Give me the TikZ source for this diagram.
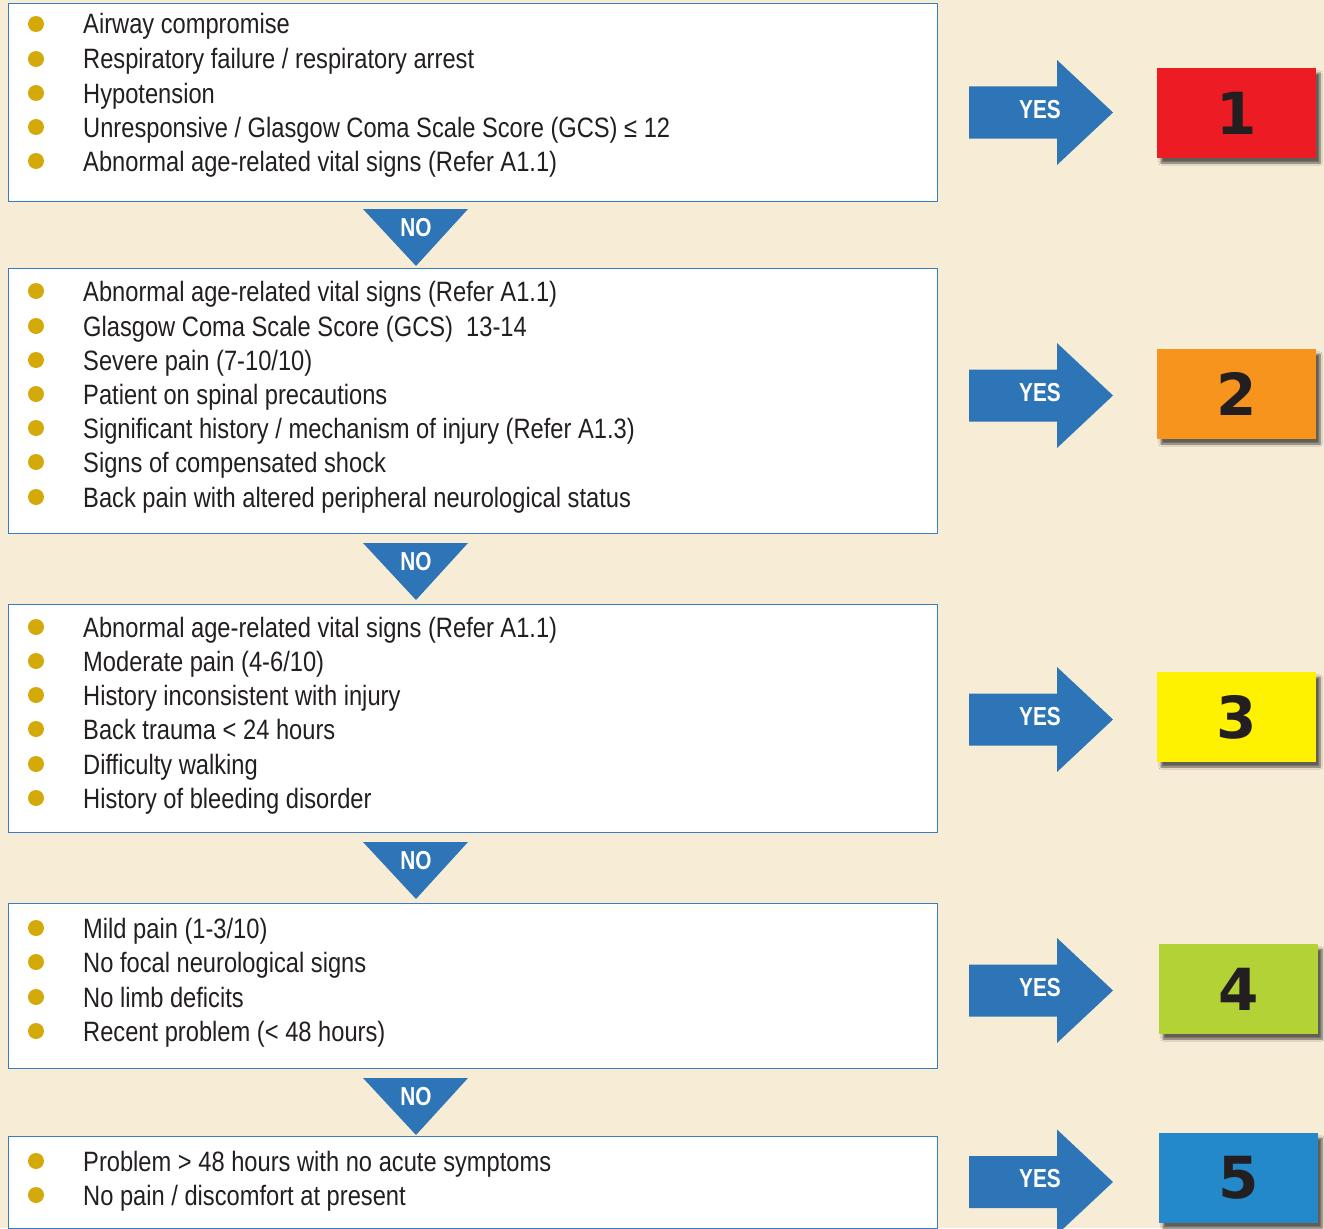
\documentclass[tikz,border=0pt]{standalone}
\usepackage{fontspec}
\setmainfont{Liberation Sans}[FakeStretch=0.846]
\newfontfamily\yesfont{Liberation Sans}[FakeStretch=0.8]
\newfontfamily\numfont{DejaVu Sans}
\usetikzlibrary{shadows.blur}
\definecolor{bg}{HTML}{F7EDD7}
\definecolor{arrblue}{HTML}{2E75B8}
\definecolor{boxline}{HTML}{3A7CC2}
\definecolor{bulc}{HTML}{D4A90A}
\definecolor{txt}{HTML}{231F20}
\definecolor{c1}{HTML}{ED1C24}
\definecolor{c2}{HTML}{F7941E}
\definecolor{c3}{HTML}{FFF200}
\definecolor{c4}{HTML}{B2D235}
\definecolor{c5}{HTML}{2389CB}
\tikzset{
  critbox/.style={draw=boxline, line width=1.2pt, fill=white, inner sep=0, anchor=north west},
  crit/.style={anchor=base west, font=\fontsize{28}{34}\selectfont, inner sep=0, text=txt},
  bul/.style={circle, fill=bulc, minimum size=16, inner sep=0},
  notext/.style={font=\yesfont\fontsize{26}{30}\selectfont\bfseries, text=white, inner sep=0},
  yestext/.style={font=\yesfont\fontsize{26}{30}\selectfont\bfseries, text=white, inner sep=0},
  numbox/.style={minimum width=159, minimum height=90, inner sep=0, font=\numfont\bfseries\fontsize{58}{60}\selectfont, text=txt,
     blur shadow={shadow xshift=4pt, shadow yshift=-5pt, shadow blur steps=6, shadow opacity=60}},
}
\begin{document}
\begin{tikzpicture}[x=1pt,y=-1pt]
\fill[bg] (0,0) rectangle (1324,1228);
\useasboundingbox (0,0) rectangle (1324,1228);
% criteria boxes
\node[critbox, minimum width=929, minimum height=198] (b1) at (8,3) {};
\node[critbox, minimum width=929, minimum height=265] (b2) at (8,268) {};
\node[critbox, minimum width=929, minimum height=228] (b3) at (8,604) {};
\node[critbox, minimum width=929, minimum height=165] (b4) at (8,903) {};
\node[critbox, minimum width=929, minimum height=92] (b5) at (8,1136) {};
% bullet lists
\foreach \y/\t [count=\i] in {
  24/{Airway compromise},
  59/{Respiratory failure / respiratory arrest},
  93/{Hypotension},
  127/{Unresponsive / Glasgow Coma Scale Score (GCS) ≤ 12},
  161/{Abnormal age-related vital signs (Refer A1.1)},
  291/{Abnormal age-related vital signs (Refer A1.1)},
  326/{Glasgow Coma Scale Score (GCS) \ 13-14},
  360/{Severe pain (7-10/10)},
  394/{Patient on spinal precautions},
  428/{Significant history / mechanism of injury (Refer A1.3)},
  462/{Signs of compensated shock},
  497/{Back pain with altered peripheral neurological status},
  627/{Abnormal age-related vital signs (Refer A1.1)},
  661/{Moderate pain (4-6/10)},
  695/{History inconsistent with injury},
  729/{Back trauma < 24 hours},
  764/{Difficulty walking},
  798/{History of bleeding disorder},
  928/{Mild pain (1-3/10)},
  962/{No focal neurological signs},
  997/{No limb deficits},
  1031/{Recent problem (< 48 hours)},
  1161/{Problem > 48 hours with no acute symptoms},
  1195/{No pain / discomfort at present}}{
  \node[bul] (bu\i) at (36,\y) {};
  \node[crit] (t\i) at (83,\y+10) {\t};
}
% NO triangles
\foreach \ty [count=\i] in {209,543,842,1078}{
  \fill[arrblue] (363,\ty) -- (468,\ty) -- (416,\ty+57) -- cycle;
  \node[notext] (no\i) at (416,\ty+19) {NO};
}
% YES arrows and level boxes
\foreach \cy/\by/\bx/\col/\n in {112.5/113/1236.5/c1/1, 395.5/394/1236.5/c2/2, 719.5/717/1236.5/c3/3, 990.5/989/1238.5/c4/4, 1182/1178/1238.5/c5/5}{
  \fill[arrblue] (969,\cy-26) -- (1057,\cy-26) -- (1057,\cy-52.5) -- (1113,\cy) -- (1057,\cy+52.5) -- (1057,\cy+26) -- (969,\cy+26) -- cycle;
  \node[yestext] (yes\n) at (1040,\cy-3) {YES};
  \node[numbox, fill=\col] (lv\n) at (\bx,\by) {\n};
}
\end{tikzpicture}
\end{document}
